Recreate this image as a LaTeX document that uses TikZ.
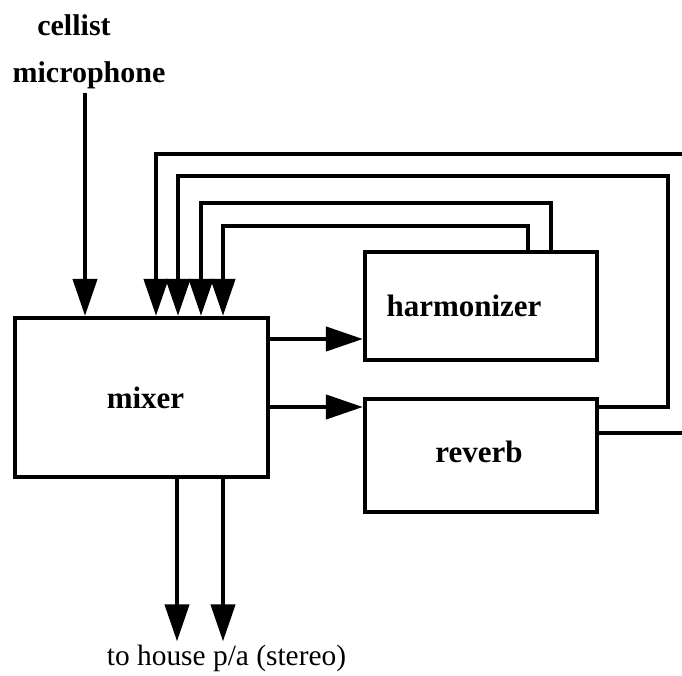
\documentclass[tikz,border=0pt]{standalone}
\usepackage{fontspec}
\setmainfont{Liberation Serif}
\usetikzlibrary{arrows.meta}

\tikzset{
	box/.style={draw, line width=4.2pt, font={\fontsize{31}{36}\selectfont\bfseries}},
	arr/.style={line width=4.2pt, line join=miter, -{Triangle[length=37pt,width=24pt]}},
	lbl/.style={anchor=base, inner sep=3pt}
}

\begin{document}
\begin{tikzpicture}[x=1pt, y=1pt]
			\useasboundingbox (0,0) rectangle (682,675);
			\node[lbl, font={\fontsize{30}{34}\selectfont\bfseries}] (cel) at (74,639) {cellist};
			\node[lbl, font={\fontsize{30}{34}\selectfont\bfseries}] (mic) at (89,592) {microphone};
			\node[box, minimum width=253pt, minimum height=159pt] (mixer) at (141.5,277.5) {\hspace*{8pt}mixer};
			\node[box, minimum width=232pt, minimum height=108pt] (harm) at (481,369) {harmonizer\hspace*{34pt}};
			\node[box, minimum width=232pt, minimum height=113pt] (rev) at (481,219.5) {\raisebox{7pt}{reverb}\hspace*{4pt}};
			\node[lbl, font={\fontsize{29.4}{34}\selectfont}] (pa) at (226.5,10) {to house p/a (stereo)};
			\draw[arr] (mic.south -| 85,0) -- (mixer.north -| 85,0);
			\draw[arr] (mixer.east |- 0,336) -- (harm.west |- 0,336);
			\draw[arr] (mixer.east |- 0,268) -- (rev.west |- 0,268);
			\draw[arr] (harm.north -| 528,0) |- (223,449) -- (mixer.north -| 223,0);
			\draw[arr] (harm.north -| 551,0) |- (201,472) -- (mixer.north -| 201,0);
			\draw[arr] (rev.east |- 0,268) -| (668,499) -| (mixer.north -| 178,0);
			\draw[arr] (rev.east |- 0,242) -| (700,521) -| (mixer.north -| 156,0);
			\draw[arr] (mixer.south -| 177,0) -- (pa.north -| 177,0);
			\draw[arr] (mixer.south -| 223,0) -- (pa.north -| 223,0);
\end{tikzpicture}
\end{document}
